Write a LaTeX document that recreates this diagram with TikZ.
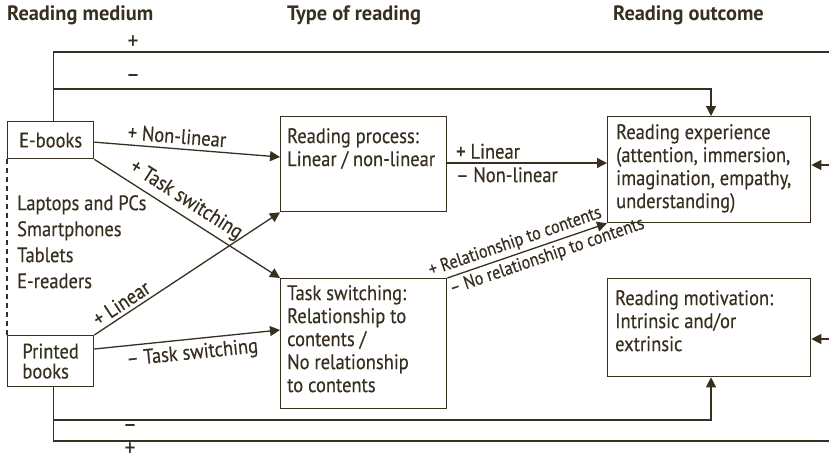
\documentclass[tikz,border=0pt]{standalone}
\usepackage{fontspec}
\setmainfont{PT Sans}[FakeStretch=0.88, FakeBold=0.35]
\newfontfamily\headfont{PT Sans}[FakeStretch=0.98]
\usetikzlibrary{arrows.meta,calc}
\definecolor{ink}{HTML}{372F1F}
\begin{document}
\begin{tikzpicture}[x=1pt,y=-1pt,
  font=\fontsize{21}{23}\selectfont,
  every node/.style={text=ink},
  box/.style={draw=ink, line width=1.3pt, anchor=north west, inner sep=0pt},
  body/.style={anchor=north west, inner sep=0pt, align=left},
  head/.style={anchor=west, inner sep=0pt, font=\headfont\fontsize{20.8}{23}\selectfont\bfseries},
  conn/.style={draw=ink, line width=1.3pt},
  arr/.style={conn, -{Triangle[length=10pt,width=10pt]}},
  lab/.style={inner sep=3.5pt},
  smalllab/.style={inner sep=3pt, font=\fontsize{18.5}{20}\selectfont},
  sign/.style={inner sep=0pt, font=\fontsize{24}{24}\selectfont}
]
\useasboundingbox (0,0) rectangle (829,458);

% column headings
\node[head] (h1) at (7,15) {Reading medium};
\node[head] (h2) at (287,15) {Type of reading};
\node[head] (h3) at (613,15) {Reading outcome};

% boxes
\node[box, minimum width=86pt, minimum height=37pt] (ebk) at (7,121) {E-books};
\node[box, minimum width=86pt, minimum height=51pt, align=left] (pbk) at (7,335) {Printed\\[-3pt]books};
\node[box, minimum width=166pt, minimum height=95pt] (proc) at (280,116) {};
\node[box, minimum width=166pt, minimum height=130pt] (task) at (280,278) {};
\node[box, minimum width=203pt, minimum height=106pt] (exper) at (607,116) {};
\node[box, minimum width=203pt, minimum height=98pt] (motiv) at (607,278) {};

% box texts
\node[body] (proct) at (287,128) {Reading process:\\Linear / non-linear};
\node[body] (taskt) at (287,285) {Task switching:\\Relationship to\\contents /\\No relationship\\to contents};
\node[body] (expert) at (616,124) {Reading experience\\(attention, immersion,\\imagination, empathy,\\understanding)};
\node[body] (motivt) at (615,290) {Reading motivation:\\Intrinsic and/or\\extrinsic};

% e-book devices
\node[body, font=\fontsize{21}{26}\selectfont] (devs) at (17,195) {Laptops and PCs\\Smartphones\\Tablets\\E-readers};
\draw[conn, line width=1.1pt, dash pattern=on 5pt off 4pt] (ebk.south west) -- (pbk.north west);

% outer feedback lines
\coordinate (tr) at (829,52);
\coordinate (ek) at (711,89);
\coordinate (br) at (829,441);
\coordinate (mk) at (711,420);
\coordinate (re) at (829,165);
\coordinate (rm) at (829,339);
\draw[conn] ($(ebk.north)+(3,0)$) |- (tr);
\draw[arr] ($(ebk.north)+(3,0)$) |- (ek) -- (ek |- exper.north);
\draw[conn] ($(pbk.south)+(3,0)$) |- (br);
\draw[arr] ($(pbk.south)+(3,0)$) |- (mk) -- (mk |- motiv.south);
\draw[arr] (re) -- (re -| exper.east);
\draw[arr] (rm) -- (rm -| motiv.east);
\node[sign] (p1) at (133,42) {+};
\node[sign] (m1) at (133,78) {–};
\node[sign] (m2) at (130,428) {–};
\node[sign] (p2) at (130,449) {+};

% medium to type of reading
\draw[arr] ($(ebk.east)+(0,2)$) -- node[lab, sloped, above, pos=0.44, inner sep=4.5pt] {+ Non-linear} ($(proc.north west)+(0,41)$);
\draw[arr] (ebk.south east) -- node[lab, sloped, above, pos=0.45, inner sep=4.5pt] {+ Task switching} (task.north west);
\draw[arr] (pbk.north east) -- node[lab, sloped, above, pos=0.18] {+ Linear} (proc.south west);
\draw[arr] ($(pbk.north east)+(0,14)$) -- node[lab, sloped, below, pos=0.52, inner sep=4.5pt] {– Task switching} ($(task.north west)+(0,52)$);

% type of reading to outcome
\coordinate (pl) at ($(proc.north east)+(0,47)$);
\draw[arr] (pl) -- node[lab, pos=0.03, anchor=south west] {+ Linear} node[lab, pos=0.03, anchor=north west] {– Non-linear} (pl -| exper.west);
\draw[arr] (task.north east) -- node[smalllab, sloped, above, pos=0.45] {+ Relationship to contents} node[smalllab, sloped, below, pos=0.6] {– No relationship to contents} (exper.south west);
\end{tikzpicture}
\end{document}
